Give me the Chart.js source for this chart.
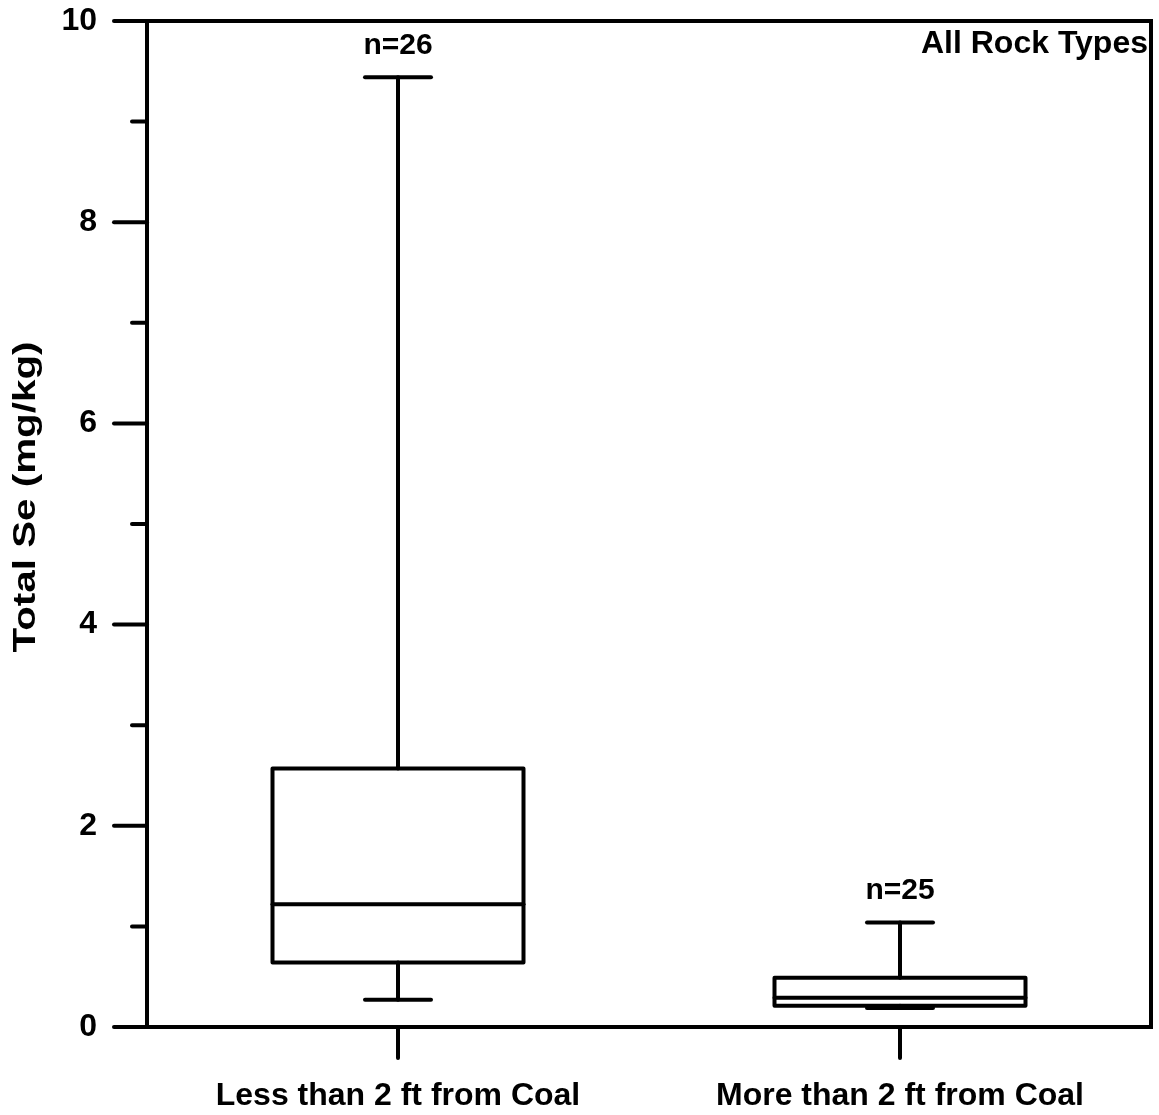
<!DOCTYPE html>
<html>
<head>
<meta charset="utf-8">
<title>Total Se box plot</title>
<script src="https://cdn.jsdelivr.net/npm/chart.js@4.4.1/dist/chart.umd.min.js"></script>
<style>
  html, body { margin: 0; padding: 0; background: #fff; }
  #wrap { width: 1159px; height: 1115px; }
</style>
</head>
<body>
<div id="wrap"><canvas id="chart" width="1159" height="1115"></canvas></div>
<script>
// --- Data ---
const categories = ['Less than 2 ft from Coal', 'More than 2 ft from Coal'];
const whiskerLow = [0.27, 0.19];
const q1 = [0.64, 0.21];
const median = [1.22, 0.29];
const q3 = [2.57, 0.49];
const whiskerHigh = [9.44, 1.04];
const counts = ['n=26', 'n=25'];
const yMin = 0;
const yMax = 10;
const yTitle = 'Total Se (mg/kg)';
const panelLabel = 'All Rock Types';

const FONT = "'Liberation Sans', Arial, sans-serif";
const LW = 4;
const CAP = 33;

function seg(ctx, x1, y1, x2, y2) {
    ctx.beginPath();
    ctx.moveTo(x1, y1);
    ctx.lineTo(x2, y2);
    ctx.stroke();
}

// tick padding also pads the chart area in Chart.js, undo that
function noScalePadding(s) {
    s.paddingTop = 0;
    s.paddingBottom = 0;
    s.paddingLeft = 0;
    s.paddingRight = 0;
}

// whiskers, box outline, median and n labels
const boxPlot = {
    id: 'boxPlot',
    afterDatasetsDraw(chart) {
        const { ctx, scales: { y } } = chart;
        const meta = chart.getDatasetMeta(0);
        ctx.save();
        ctx.strokeStyle = '#000';
        ctx.fillStyle = '#000';
        ctx.lineWidth = LW;
        ctx.lineCap = 'round';
        ctx.lineJoin = 'round';
        meta.data.forEach((bar, i) => {
            const cx = bar.x;
            const half = bar.width / 2;
            const top = y.getPixelForValue(q3[i]);
            const bot = y.getPixelForValue(q1[i]);
            const hi = y.getPixelForValue(whiskerHigh[i]);
            const lo = y.getPixelForValue(whiskerLow[i]);
            const med = y.getPixelForValue(median[i]);
            seg(ctx, cx, top, cx, hi);
            seg(ctx, cx, bot, cx, lo);
            seg(ctx, cx - CAP, hi, cx + CAP, hi);
            seg(ctx, cx - CAP, lo, cx + CAP, lo);
            ctx.strokeRect(cx - half, top, half * 2, bot - top);
            seg(ctx, cx - half, med, cx + half, med);
            ctx.font = 'bold 30px ' + FONT;
            ctx.textAlign = 'center';
            ctx.textBaseline = 'alphabetic';
            ctx.fillText(counts[i], cx, hi - 23);
        });
        ctx.restore();
    }
};

// frame, tick marks, axis title and panel label
const frame = {
    id: 'frame',
    afterDraw(chart) {
        const { ctx, chartArea: a, scales: { x, y } } = chart;
        ctx.save();
        ctx.strokeStyle = '#000';
        ctx.fillStyle = '#000';
        ctx.lineWidth = LW;
        ctx.lineCap = 'round';
        y.ticks.forEach(t => {
            const py = y.getPixelForValue(t.value);
            const len = t.value % 2 === 0 ? 33 : 15;
            seg(ctx, a.left - len, py, a.left, py);
        });
        x.ticks.forEach((t, i) => {
            const px = x.getPixelForTick(i);
            seg(ctx, px, a.bottom, px, a.bottom + 31);
        });
        ctx.lineCap = 'butt';
        ctx.lineJoin = 'miter';
        ctx.strokeRect(a.left, a.top, a.right - a.left, a.bottom - a.top);

        ctx.font = 'bold 32px ' + FONT;
        ctx.textAlign = 'right';
        ctx.textBaseline = 'alphabetic';
        ctx.fillText(panelLabel, a.right - 3, a.top + 32);

        // rotated y title, stretched along its length like the original
        ctx.font = 'bold 32px ' + FONT;
        const w = ctx.measureText(yTitle).width;
        ctx.translate(26, 497);
        ctx.rotate(-Math.PI / 2);
        ctx.scale(311 / w, 1);
        ctx.textAlign = 'center';
        ctx.textBaseline = 'middle';
        ctx.fillText(yTitle, 0, 0);
        ctx.restore();
    }
};

new Chart(document.getElementById('chart'), {
    type: 'bar',
    data: {
        labels: categories,
        datasets: [{
            data: q1.map((v, i) => [v, q3[i]]),
            backgroundColor: '#fff',
            borderWidth: 0,
            barPercentage: 0.5,
            categoryPercentage: 1.0
        }]
    },
    options: {
        responsive: false,
        animation: false,
        layout: { padding: { top: 21, right: 8, left: 0, bottom: 0 } },
        plugins: { legend: { display: false }, tooltip: { enabled: false } },
        scales: {
            x: {
                offset: true,
                grid: { display: false, drawTicks: false },
                border: { display: false },
                ticks: { color: '#000', padding: 50, font: { family: FONT, size: 32, weight: 'bold' } },
                afterFit: s => { s.height = 88; noScalePadding(s); }
            },
            y: {
                min: yMin,
                max: yMax,
                grid: { display: false, drawTicks: false },
                border: { display: false },
                ticks: {
                    stepSize: 1,
                    color: '#000',
                    padding: 50,
                    font: { family: FONT, size: 32, weight: 'bold' },
                    callback: v => (v % 2 === 0 ? v : '')
                },
                afterFit: s => { s.width = 147; noScalePadding(s); }
            }
        }
    },
    plugins: [boxPlot, frame]
});
</script>
</body>
</html>
